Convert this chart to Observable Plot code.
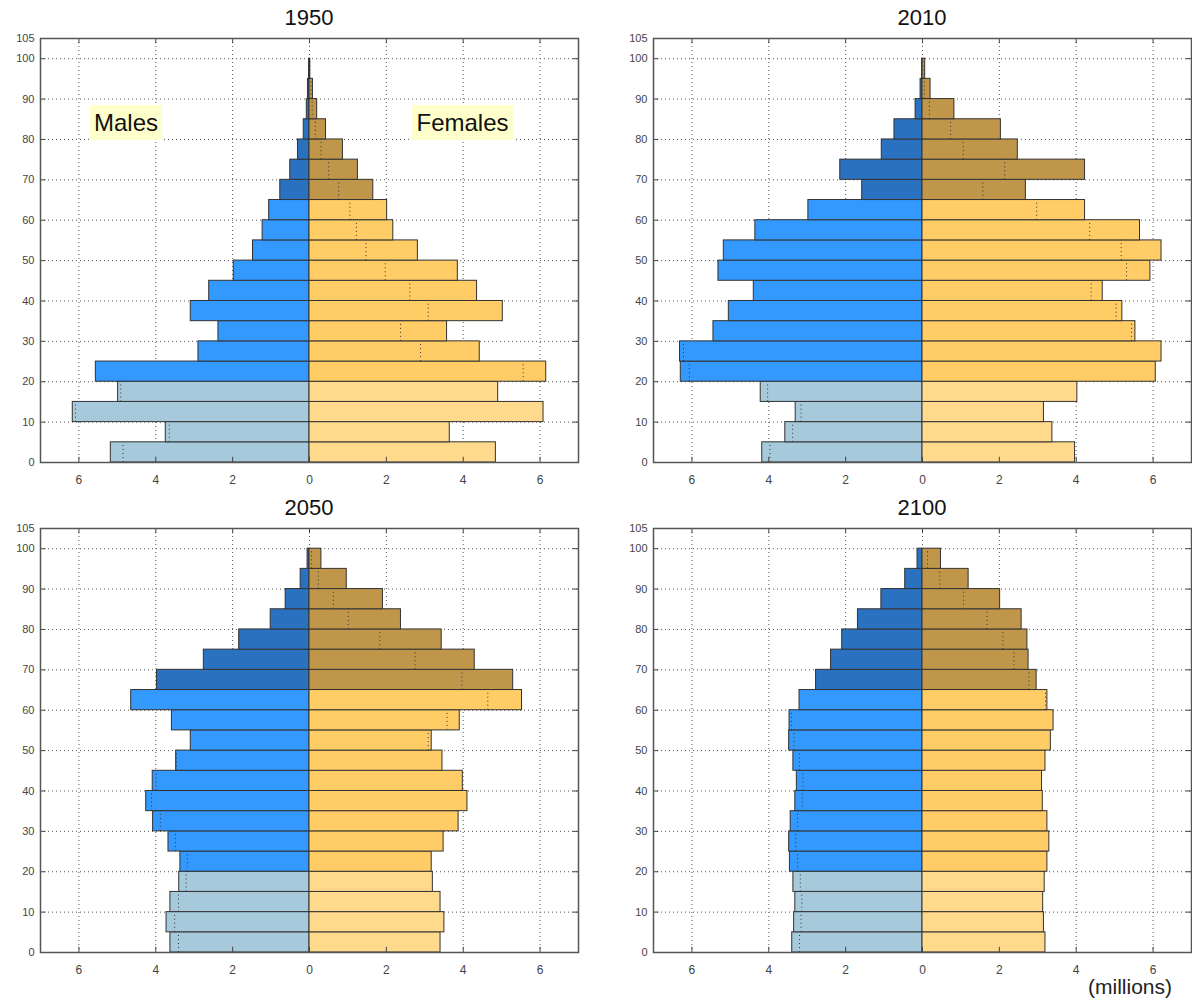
<!DOCTYPE html>
<html><head><meta charset="utf-8">
<script src="https://cdn.jsdelivr.net/npm/d3@7"></script>
<script src="https://cdn.jsdelivr.net/npm/@observablehq/plot@0.6"></script>
<style>
body{margin:0;background:#fff;width:1192px;height:1001px;position:relative;overflow:hidden;font-family:"Liberation Sans",Arial,sans-serif}
.panel{position:absolute;width:596px;height:490px}
.panel svg{max-width:none !important}
.title{position:absolute;width:200px;text-align:center;font-size:22px;font-weight:normal;color:#111;line-height:26px}
.tag{position:absolute;background:#ffffcc;font-size:24px;color:#111;height:35px;line-height:35px;text-align:center}
#unit{position:absolute;right:20px;top:975px;font-size:21px;color:#222}
</style></head><body>
<script>
const ages = [0,5,10,15,20,25,30,35,40,45,50,55,60,65,70,75,80,85,90,95];
const years = ["1950","2010","2050","2100"];
const male1950   = [5.17,3.74,6.16,4.98,5.56,2.89,2.37,3.09,2.61,1.97,1.47,1.22,1.05,0.76,0.50,0.30,0.15,0.07,0.04,0.01];
const female1950 = [4.85,3.65,6.09,4.91,6.16,4.43,3.58,5.03,4.36,3.86,2.82,2.18,2.02,1.66,1.26,0.87,0.43,0.20,0.09,0.02];
const male2010   = [4.17,3.57,3.30,4.21,6.29,6.31,5.44,5.04,4.39,5.31,5.17,4.35,2.97,1.57,2.14,1.06,0.73,0.18,0.05,0.01];
const female2010 = [3.97,3.38,3.16,4.03,6.07,6.22,5.54,5.20,4.69,5.93,6.22,5.66,4.23,2.69,4.23,2.48,2.04,0.83,0.21,0.07];
const male2050   = [3.62,3.72,3.62,3.39,3.36,3.67,4.07,4.25,4.08,3.47,3.09,3.58,4.64,3.97,2.75,1.83,1.01,0.62,0.23,0.05];
const female2050 = [3.41,3.51,3.41,3.21,3.18,3.49,3.88,4.11,3.99,3.46,3.18,3.91,5.53,5.30,4.30,3.44,2.38,1.91,0.97,0.31];
const male2100   = [3.39,3.34,3.31,3.36,3.45,3.47,3.43,3.31,3.27,3.36,3.47,3.46,3.20,2.77,2.38,2.09,1.68,1.07,0.45,0.13];
const female2100 = [3.20,3.16,3.14,3.18,3.25,3.30,3.25,3.13,3.11,3.20,3.34,3.41,3.25,2.97,2.76,2.73,2.58,2.02,1.20,0.48];
const xTicks = [-6,-4,-2,0,2,4,6];
const yTicks = [0,10,20,30,40,50,60,70,80,90,100,105];
const yGrid = [10,20,30,40,50,60,70,80,90,100];
const colorKeys = ["M-young","M-adult","M-old","F-young","F-adult","F-old"];
const colorRange = ["#a6c9dc","#3399ff","#2a72c0","#ffd98c","#ffcc66","#bf964a"];

const series = {
  "1950": [male1950, female1950],
  "2010": [male2010, female2010],
  "2050": [male2050, female2050],
  "2100": [male2100, female2100]
};
const positions = {"1950":[0,0],"2010":[613,0],"2050":[0,490],"2100":[613,490]};

function groupOf(a){ return a < 20 ? "young" : a < 65 ? "adult" : "old"; }

function panel(year){
  const [males, females] = series[year];
  const rows = [];
  ages.forEach((a,i)=>{
    rows.push({sex:"M", age:a, v:males[i], other:females[i], key:"M-"+groupOf(a)});
    rows.push({sex:"F", age:a, v:females[i], other:males[i], key:"F-"+groupOf(a)});
  });
  const sgn = d => d.sex === "M" ? -1 : 1;
  return Plot.plot({
    width:596, height:490, marginLeft:40, marginRight:18, marginTop:38, marginBottom:28,
    style:{fontFamily:'"Liberation Sans",Arial,sans-serif', fontSize:"12px", color:"#444", background:"transparent", maxWidth:"none"},
    x:{domain:[-7,7], label:null},
    y:{domain:[0,105], label:null},
    color:{type:"ordinal", domain:colorKeys, range:colorRange},
    marks:[
      Plot.ruleX(xTicks, {stroke:"#555", strokeDasharray:"1,3", strokeWidth:1}),
      Plot.ruleY(yGrid, {stroke:"#555", strokeDasharray:"1,3", strokeWidth:1}),
      Plot.rect(rows, {x1:0, x2:d=>sgn(d)*d.v, y1:"age", y2:d=>d.age+5, fill:"key", stroke:"#333", strokeWidth:1}),
      Plot.ruleX(rows.filter(d=>d.other < d.v), {x:d=>sgn(d)*d.other, y1:"age", y2:d=>d.age+5, stroke:"#333", strokeDasharray:"1,3", strokeWidth:1}),
      Plot.ruleX(xTicks, {y1:0, y2:1.3, stroke:"#444"}),
      Plot.ruleX(xTicks, {y1:103.7, y2:105, stroke:"#444"}),
      Plot.ruleY(yTicks, {x1:-7, x2:-6.86, stroke:"#444"}),
      Plot.ruleY(yTicks, {x1:6.86, x2:7, stroke:"#444"}),
      Plot.frame({stroke:"#555", strokeWidth:1.5}),
      Plot.axisX({ticks:xTicks, tickSize:0, tickPadding:13, tickFormat:d=>String(Math.abs(d)), fontSize:12}),
      Plot.axisY({ticks:yTicks, tickSize:0, tickPadding:6, fontSize:11})
    ]
  });
}

years.forEach(y=>{
  const div = document.createElement("div");
  div.className = "panel";
  div.style.left = positions[y][0] + "px";
  div.style.top = positions[y][1] + "px";
  div.appendChild(panel(y));
  document.body.appendChild(div);
  const t = document.createElement("div");
  t.className = "title";
  t.textContent = y;
  t.style.left = (positions[y][0] + 309 - 100) + "px";
  t.style.top = (positions[y][1] + 5) + "px";
  document.body.appendChild(t);
});

const m = document.createElement("div"); m.className="tag"; m.textContent="Males";
m.style.left="90px"; m.style.top="105px"; m.style.width="72px"; document.body.appendChild(m);
const f = document.createElement("div"); f.className="tag"; f.textContent="Females";
f.style.left="412px"; f.style.top="105px"; f.style.width="101px"; document.body.appendChild(f);
const u = document.createElement("div"); u.id="unit"; u.textContent="(millions)"; document.body.appendChild(u);
</script>
</body></html>
